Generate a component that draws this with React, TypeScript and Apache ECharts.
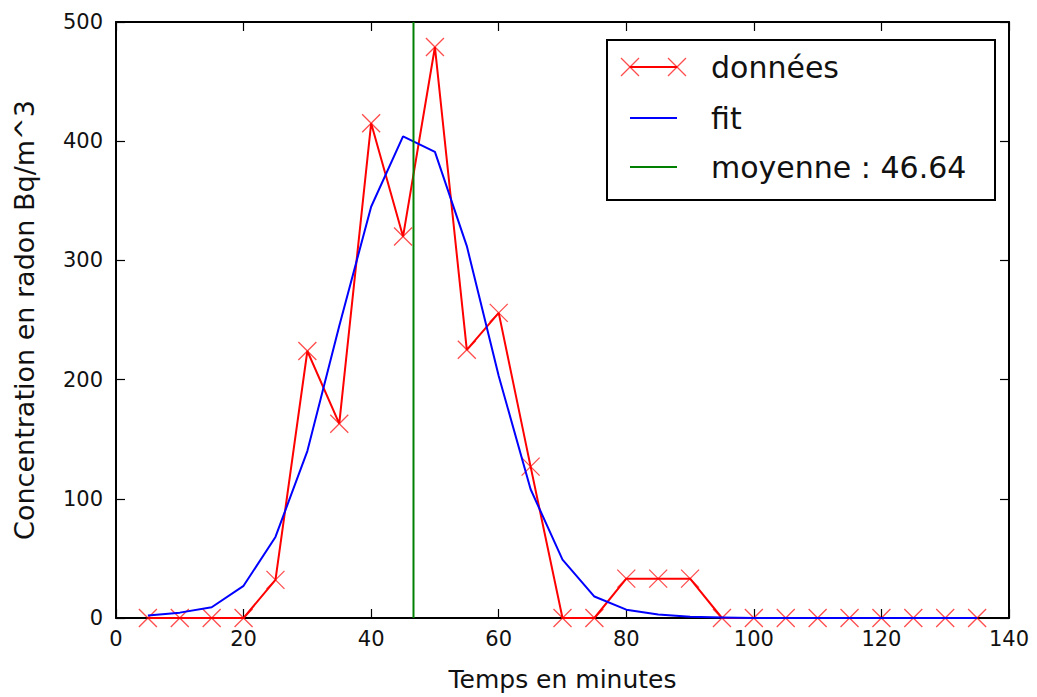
import React, { useEffect, useRef } from "react";
import * as echarts from "echarts";

const times = [5, 10, 15, 20, 25, 30, 35, 40, 45, 50, 55, 60, 65, 70, 75, 80, 85, 90, 95, 100, 105, 110, 115, 120, 125, 130, 135];
const donnees = [0, 0, 0, 0, 32, 224, 163, 415, 320, 479, 225, 256, 127, 0, 0, 33, 33, 33, 0, 0, 0, 0, 0, 0, 0, 0, 0];
const fit = [2, 4.5, 9, 27, 68, 140, 245, 345, 404, 391, 312, 203, 108, 49, 18, 7, 3, 1, 0.5, 0, 0, 0, 0, 0, 0, 0, 0];
const moyenne = 46.64;
const yRange = [0, 500];
const legendLabels = ["données", "fit", "moyenne : 46.64"];
const xTitle = "Temps en minutes";
const yTitle = "Concentration en radon Bq/m^3";

const FONT = "DejaVu Sans";
const XMARK = "path://M0,0L10,10M10,0L0,10";

export default function App() {
  const ref = useRef<HTMLDivElement>(null);
  useEffect(() => {
    if (!ref.current) return;
    const chart = echarts.init(ref.current, null, { renderer: "svg" });
    const axisCommon = {
      type: "value" as const,
      axisLine: { show: true, onZero: false, lineStyle: { color: "#000", width: 2 } },
      axisTick: { show: true, inside: true, length: 9, lineStyle: { color: "#000", width: 1.2 } },
      splitLine: { show: false },
    };
    const redData = times.map((t, i) => [t, donnees[i]]);
    const blueData = times.map((t, i) => [t, fit[i]]);
    const greenData = [[moyenne, yRange[0]], [moyenne, yRange[1]]];

    const legX0 = 630, legX1 = 677, legTextX = 711;
    const legYs = [67, 118, 167];
    const legColors = ["#ff0000", "#0000ff", "#008000"];
    const legendEls: any[] = [
      { type: "rect", shape: { x: 607, y: 40, width: 388, height: 160 }, style: { fill: "#fff", stroke: "#000", lineWidth: 2 }, z: 100 },
    ];
    legendLabels.forEach((lab, i) => {
      legendEls.push({ type: "line", shape: { x1: legX0, y1: legYs[i], x2: legX1, y2: legYs[i] }, style: { stroke: legColors[i], lineWidth: 2 }, z: 101 });
      legendEls.push({ type: "text", x: legTextX, y: legYs[i], style: { text: lab, font: `30px '${FONT}'`, fill: "#111", textVerticalAlign: "middle", verticalAlign: "middle" }, z: 101 });
    });
    [legX0, legX1].forEach((cx) => {
      legendEls.push({ type: "line", shape: { x1: cx - 9, y1: legYs[0] - 9, x2: cx + 9, y2: legYs[0] + 9 }, style: { stroke: "rgba(255,0,0,0.7)", lineWidth: 1.3 }, z: 102 });
      legendEls.push({ type: "line", shape: { x1: cx - 9, y1: legYs[0] + 9, x2: cx + 9, y2: legYs[0] - 9 }, style: { stroke: "rgba(255,0,0,0.7)", lineWidth: 1.3 }, z: 102 });
    });

    chart.setOption({
      animation: false,
      backgroundColor: "#fff",
      textStyle: { fontFamily: FONT },
      grid: { left: 116, top: 22, width: 893, height: 597, containLabel: false },
      xAxis: [
        {
          ...axisCommon,
          position: "bottom",
          min: 0, max: 140, interval: 20,
          axisLabel: { show: true, fontSize: 21, color: "#111", margin: 10, fontFamily: FONT },
          name: xTitle, nameLocation: "middle", nameGap: 49,
          nameTextStyle: { fontSize: 25, color: "#111", fontFamily: FONT },
        },
        {
          ...axisCommon,
          position: "top",
          min: 0, max: 140, interval: 20,
          axisLabel: { show: false },
        },
      ],
      yAxis: [
        {
          ...axisCommon,
          position: "left",
          min: yRange[0], max: yRange[1], interval: 100,
          axisLabel: { show: true, fontSize: 21, color: "#111", margin: 13, fontFamily: FONT },
          name: yTitle, nameLocation: "middle", nameGap: 78,
          nameTextStyle: { fontSize: 27, color: "#111", fontFamily: FONT },
        },
        {
          ...axisCommon,
          position: "right",
          min: yRange[0], max: yRange[1], interval: 100,
          axisLabel: { show: false },
        },
      ],
      series: [
        {
          name: legendLabels[0], type: "line", data: redData, z: 2, silent: true,
          lineStyle: { color: "#ff0000", width: 2 },
          symbol: XMARK, symbolSize: 18, showAllSymbol: true,
          itemStyle: { color: "rgba(0,0,0,0)", borderColor: "rgba(255,0,0,0.7)", borderWidth: 1.3 },
        },
        {
          name: legendLabels[1], type: "line", data: blueData, z: 3, silent: true,
          lineStyle: { color: "#0000ff", width: 2 }, symbol: "none",
        },
        {
          name: legendLabels[2], type: "line", data: greenData, z: 4, silent: true,
          lineStyle: { color: "#008000", width: 2 }, symbol: "none",
        },
      ],
      graphic: legendEls,
    });
    return () => chart.dispose();
  }, []);
  return <div ref={ref} style={{ position: "fixed", left: 0, top: 0, width: 1037, height: 697 }} />;
}
